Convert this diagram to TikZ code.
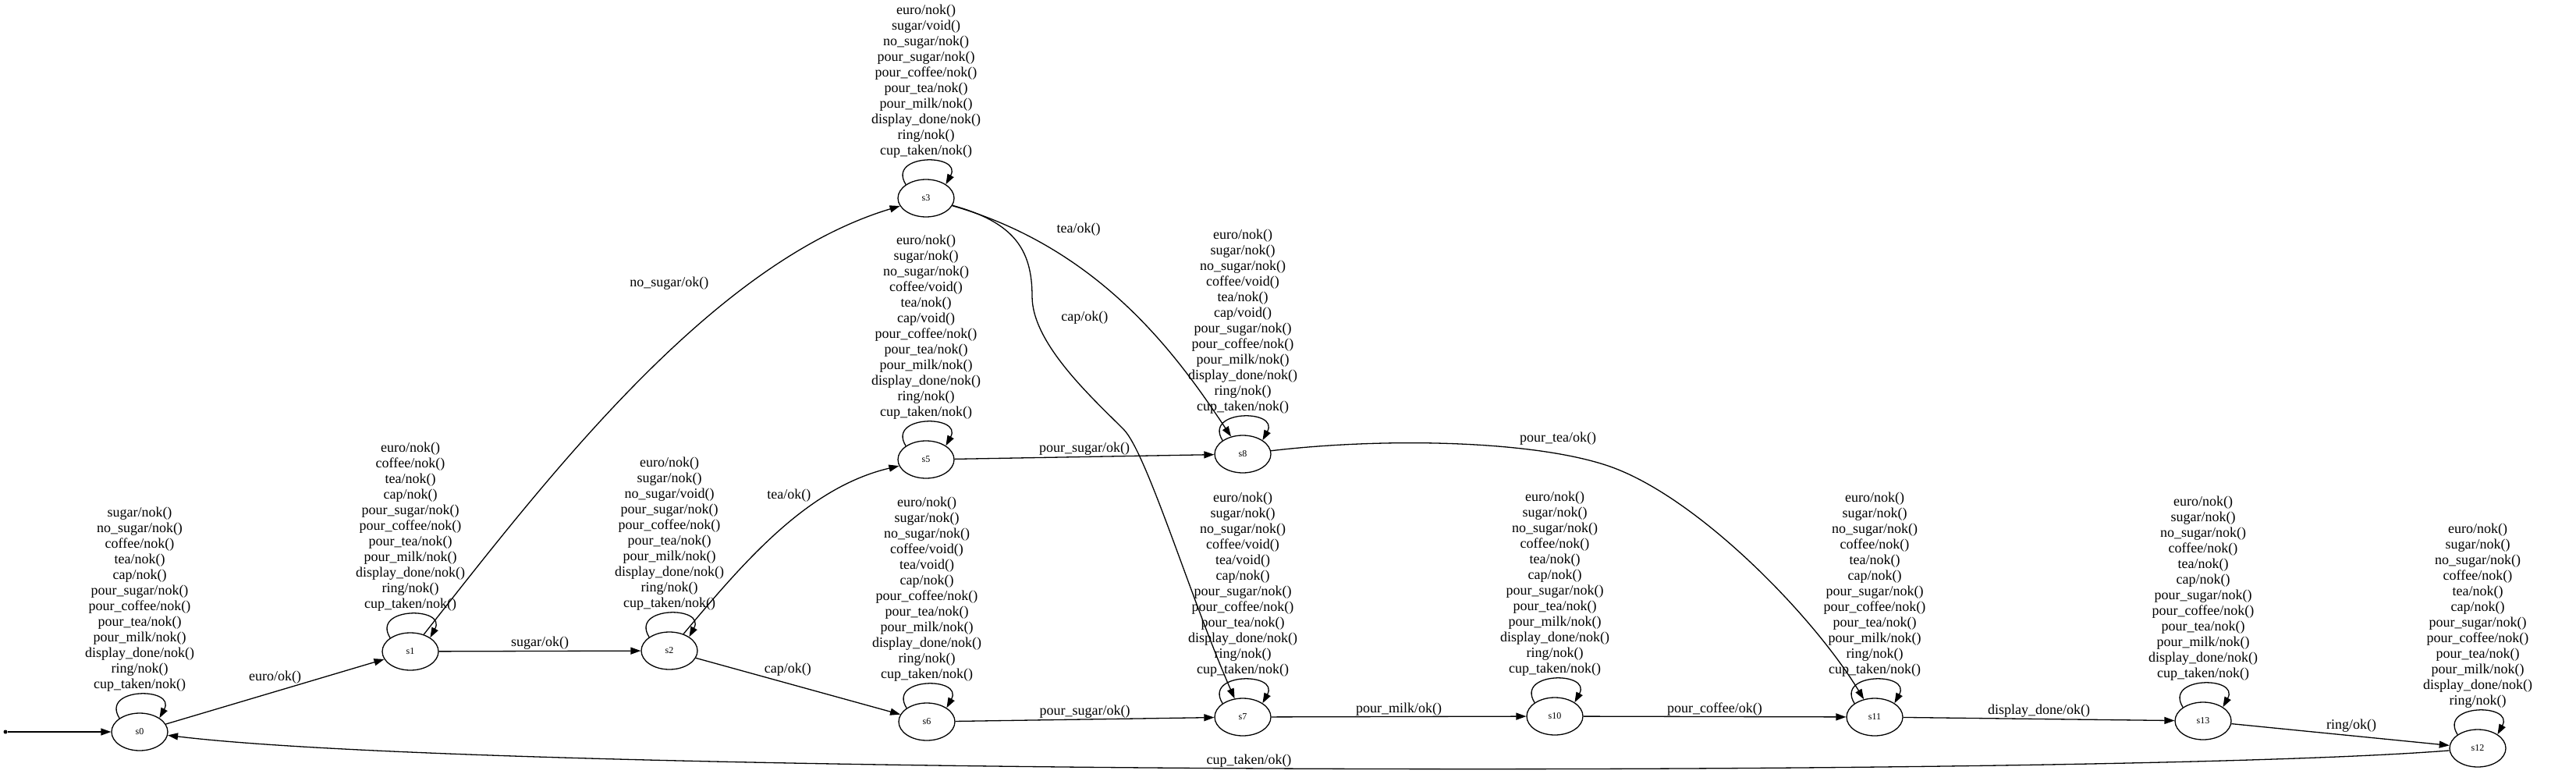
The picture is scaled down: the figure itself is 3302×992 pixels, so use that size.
\documentclass[tikz,border=0pt]{standalone}
\usepackage{fontspec}
\setmainfont{Liberation Serif}
\usetikzlibrary{shapes.geometric, arrows.meta, positioning}

\begin{document}
\begin{tikzpicture}[x=1pt, y=-1pt, line width=1.3pt,
    state/.style={draw, ellipse, minimum width=72pt, minimum height=48pt, inner sep=0pt, font=\fontsize{12}{14}\selectfont},
    initdot/.style={circle, fill, inner sep=0pt, minimum size=5pt},
    edge/.style={-{Triangle[length=13pt, width=9pt]}},
    lbl/.style={inner sep=1pt, font=\fontsize{18}{20}\selectfont},
    looplbl/.style={align=center, inner sep=0pt, font=\fontsize{18}{20}\selectfont}]
\useasboundingbox (0,0) rectangle (3302,992);

% States
\node[initdot] (start) at (7,938) {};
\node[state] (s0) at (179,938) {s0};
\node[state] (s1) at (526,835) {s1};
\node[state] (s2) at (858,834) {s2};
\node[state] (s3) at (1187,254) {s3};
\node[state] (s5) at (1187,589) {s5};
\node[state] (s6) at (1188,925) {s6};
\node[state] (s8) at (1593,582) {s8};
\node[state] (s7) at (1593,919) {s7};
\node[state] (s10) at (1993,918) {s10};
\node[state] (s11) at (2403,919) {s11};
\node[state] (s13) at (2824,924) {s13};
\node[state] (s12) at (3176,959) {s12};

% Self loops
\foreach \s in {s0,s1,s2,s3,s5,s6,s7,s8,s10,s11,s12,s13} {
    \draw[edge] (\s.146) .. controls +(-25,-40) and +(22,-40) .. (\s.35);
}

% Self loop labels
\node[looplbl, above=26pt of s0] (l0) {sugar/nok()\\no\_sugar/nok()\\coffee/nok()\\tea/nok()\\cap/nok()\\pour\_sugar/nok()\\pour\_coffee/nok()\\pour\_tea/nok()\\pour\_milk/nok()\\display\_done/nok()\\ring/nok()\\cup\_taken/nok()};
\node[looplbl, above=26pt of s1] (l1) {euro/nok()\\coffee/nok()\\tea/nok()\\cap/nok()\\pour\_sugar/nok()\\pour\_coffee/nok()\\pour\_tea/nok()\\pour\_milk/nok()\\display\_done/nok()\\ring/nok()\\cup\_taken/nok()};
\node[looplbl, above=26pt of s2] (l2) {euro/nok()\\sugar/nok()\\no\_sugar/void()\\pour\_sugar/nok()\\pour\_coffee/nok()\\pour\_tea/nok()\\pour\_milk/nok()\\display\_done/nok()\\ring/nok()\\cup\_taken/nok()};
\node[looplbl, above=26pt of s3] (l3) {euro/nok()\\sugar/void()\\no\_sugar/nok()\\pour\_sugar/nok()\\pour\_coffee/nok()\\pour\_tea/nok()\\pour\_milk/nok()\\display\_done/nok()\\ring/nok()\\cup\_taken/nok()};
\node[looplbl, above=26pt of s5] (l5) {euro/nok()\\sugar/nok()\\no\_sugar/nok()\\coffee/void()\\tea/nok()\\cap/void()\\pour\_coffee/nok()\\pour\_tea/nok()\\pour\_milk/nok()\\display\_done/nok()\\ring/nok()\\cup\_taken/nok()};
\node[looplbl, above=26pt of s6] (l6) {euro/nok()\\sugar/nok()\\no\_sugar/nok()\\coffee/void()\\tea/void()\\cap/nok()\\pour\_coffee/nok()\\pour\_tea/nok()\\pour\_milk/nok()\\display\_done/nok()\\ring/nok()\\cup\_taken/nok()};
\node[looplbl, above=26pt of s8] (l8) {euro/nok()\\sugar/nok()\\no\_sugar/nok()\\coffee/void()\\tea/nok()\\cap/void()\\pour\_sugar/nok()\\pour\_coffee/nok()\\pour\_milk/nok()\\display\_done/nok()\\ring/nok()\\cup\_taken/nok()};
\node[looplbl, above=26pt of s7] (l7) {euro/nok()\\sugar/nok()\\no\_sugar/nok()\\coffee/void()\\tea/void()\\cap/nok()\\pour\_sugar/nok()\\pour\_coffee/nok()\\pour\_tea/nok()\\display\_done/nok()\\ring/nok()\\cup\_taken/nok()};
\node[looplbl, above=26pt of s10] (l10) {euro/nok()\\sugar/nok()\\no\_sugar/nok()\\coffee/nok()\\tea/nok()\\cap/nok()\\pour\_sugar/nok()\\pour\_tea/nok()\\pour\_milk/nok()\\display\_done/nok()\\ring/nok()\\cup\_taken/nok()};
\node[looplbl, above=26pt of s11] (l11) {euro/nok()\\sugar/nok()\\no\_sugar/nok()\\coffee/nok()\\tea/nok()\\cap/nok()\\pour\_sugar/nok()\\pour\_coffee/nok()\\pour\_tea/nok()\\pour\_milk/nok()\\ring/nok()\\cup\_taken/nok()};
\node[looplbl, above=26pt of s13] (l13) {euro/nok()\\sugar/nok()\\no\_sugar/nok()\\coffee/nok()\\tea/nok()\\cap/nok()\\pour\_sugar/nok()\\pour\_coffee/nok()\\pour\_tea/nok()\\pour\_milk/nok()\\display\_done/nok()\\cup\_taken/nok()};
\node[looplbl, above=26pt of s12] (l12) {euro/nok()\\sugar/nok()\\no\_sugar/nok()\\coffee/nok()\\tea/nok()\\cap/nok()\\pour\_sugar/nok()\\pour\_coffee/nok()\\pour\_tea/nok()\\pour\_milk/nok()\\display\_done/nok()\\ring/nok()};

% Transitions
\draw[edge] (start) -- (s0);
\draw[edge] (s0) -- node[lbl, above=9pt] (e-euro) {euro/ok()} (s1);
\draw[edge] (s1) -- node[lbl, above] (e-sugar) {sugar/ok()} (s2);
\draw[edge] (s1) .. controls (698,617) and (911,337) .. (s3) node[lbl, pos=0.73, left=54pt] (e-nosugar) {no\_sugar/ok()};
\draw[edge] (s2) .. controls (953,721) and (1034,625) .. (s5) node[lbl, pos=0.72, left=20pt] (e-tea1) {tea/ok()};
\draw[edge] (s2) -- node[lbl, pos=0.45, above=8pt] (e-cap1) {cap/ok()} (s6);
\draw[edge] (s3) .. controls (1413,319) and (1511,459) .. (s8) node[lbl, pos=0.33, above=38pt] (e-tea2) {tea/ok()};
\draw[edge] (s3) .. controls (1300,285) and (1323,320) .. (1323,380)
    .. controls (1323,440) and (1400,510) .. (1440,550) node[lbl, pos=0.15, right=31pt] (e-cap2) {cap/ok()}
    .. controls (1470,580) and (1526,767) .. (s7);
\draw[edge] (s5) -- node[lbl, above] (e-psugar1) {pour\_sugar/ok()} (s8);
\draw[edge] (s6) -- node[lbl, above] (e-psugar2) {pour\_sugar/ok()} (s7);
\draw[edge] (s8) .. controls (1780,560) and (1970,565) .. (2064,598) node[lbl, pos=0.8, above=10pt] (e-ptea) {pour\_tea/ok()}
    .. controls (2177,638) and (2324,789) .. (s11);
\draw[edge] (s7) -- node[lbl, above] (e-pmilk) {pour\_milk/ok()} (s10);
\draw[edge] (s10) -- node[lbl, above] (e-pcoffee) {pour\_coffee/ok()} (s11);
\draw[edge] (s11) -- node[lbl, above] (e-display) {display\_done/ok()} (s13);
\draw[edge] (s13) -- node[lbl, pos=0.55, above=3pt] (e-ring) {ring/ok()} (s12);
\draw[edge] (s12) .. controls (2700,997) and (650,995) .. (s0) node[lbl, pos=0.52, above] (e-cup) {cup\_taken/ok()};
\end{tikzpicture}
\end{document}
